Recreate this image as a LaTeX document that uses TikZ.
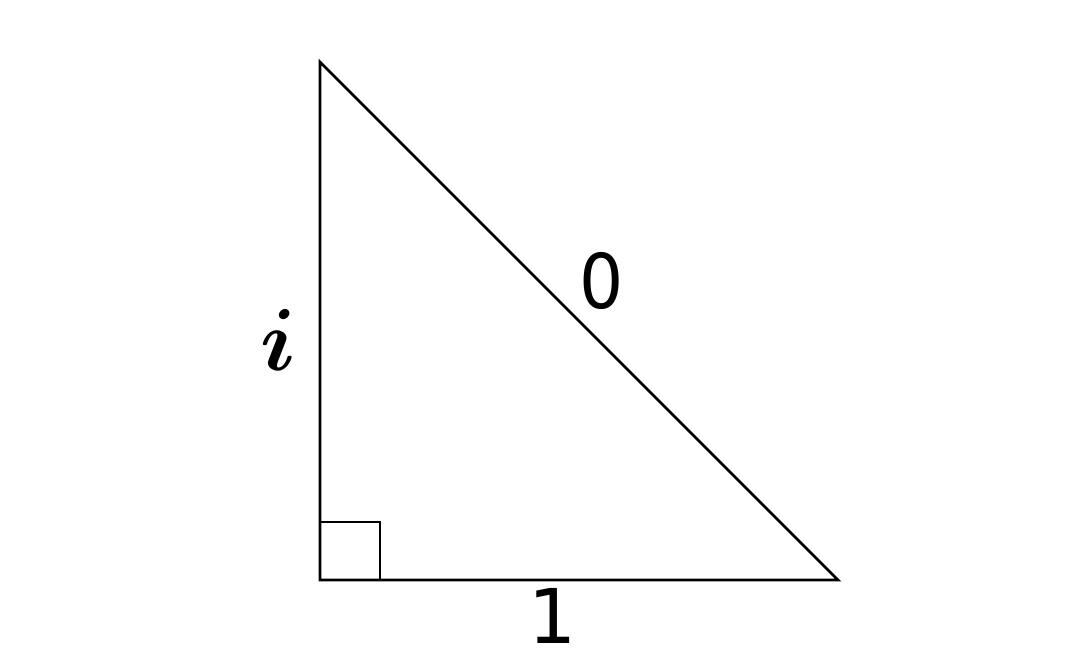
\documentclass[tikz,border=0pt]{standalone}
\usepackage{amsmath,amssymb}
\usepackage{fontspec}
\newfontfamily\digitfont{DejaVu Sans}
\usepackage{tikz}
\tikzstyle{Side}=[draw=black,line width=1.6pt,line join=miter]
\tikzstyle{Mark}=[draw=black,line width=1.5pt]
\tikzstyle{SideLbl}=[inner sep=0pt,font=\digitfont\fontsize{43}{43}\selectfont]
\tikzstyle{VarLbl}=[inner sep=0pt]

\begin{document}
\begin{tikzpicture}[x=0.02cm,y=-0.02cm]
        \useasboundingbox(0,0)rectangle(1079,664);
        \coordinate(A)at(320,62);
        \coordinate(C)at(320,580);
        \coordinate(B)at(838,580);
        \coordinate(q1)at(320,522);
        \coordinate(q2)at(380,522);
        \coordinate(q3)at(380,580);
        \draw[Side](A)--(C)--(B)--cycle;
        \draw[Mark](q1)--(q2)--(q3);
        \node[VarLbl](i)at(278,340){\scalebox{2.9}{\LARGE$\boldsymbol{i}$}};
        \node[SideLbl](h)at(602,281){\scalebox{0.92}[1]{0}};
        \node[SideLbl](b)at(553,616){1};
    \end{tikzpicture}
\end{document}
